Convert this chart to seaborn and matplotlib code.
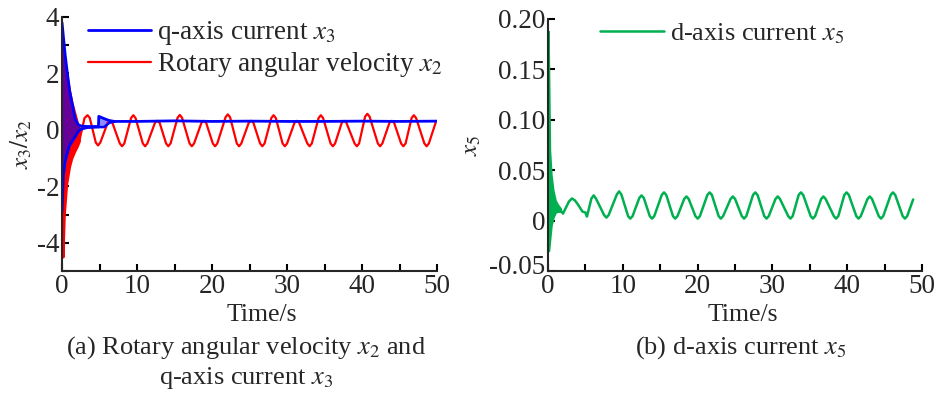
import matplotlib
matplotlib.use("Agg")
import matplotlib.pyplot as plt
import matplotlib.transforms as mtransforms
import seaborn as sns

# ── Data ──────────────────────────────────────────────────────────────────────
# (a) rotary angular velocity x2: dense transient envelope, then oscillation
x2_env_t  = [0.12, 0.3, 0.62, 1.0, 1.3, 1.7, 2.0, 2.3]
x2_env_hi = [3.0, 2.6, 2.0, 1.4, 1.0, 0.6, 0.3, 0.0]
x2_env_lo = [-4.5, -3.0, -1.9, -1.3, -1.0, -0.75, -0.6, -0.4]

x2_t = [2.3,
        3.0, 3.4, 3.7, 4.5, 4.8, 5.1, 6.1, 6.4, 6.7, 7.7, 8.0, 8.3,
        9.2, 9.5, 9.8, 10.77, 11.07, 11.37, 12.4, 12.7, 13.0, 13.87, 14.17, 14.47,
        15.4, 15.7, 16.0, 17.0, 17.3, 17.6, 18.6, 18.9, 19.2, 20.1, 20.4, 20.7,
        21.8, 22.1, 22.4, 23.3, 23.6, 23.9, 24.9, 25.2, 25.5, 26.4, 26.7, 27.0,
        27.9, 28.2, 28.5, 29.4, 29.7, 30.0, 31.0, 31.3, 31.6, 32.7, 33.0, 33.3,
        34.2, 34.5, 34.8, 35.8, 36.1, 36.4, 37.3, 37.6, 37.9, 39.0, 39.3, 39.6,
        40.4, 40.7, 41.0, 42.1, 42.4, 42.7, 43.66, 43.96, 44.26, 45.2, 45.5, 45.8,
        46.6, 46.9, 47.2, 48.3, 48.6, 48.9,
        49.8]
x2_v = [-0.4,
        0.42, 0.52, 0.42, -0.45, -0.55, -0.45, 0.26, 0.33, 0.26, -0.48, -0.58, -0.48,
        0.42, 0.52, 0.42, -0.48, -0.58, -0.48, 0.26, 0.32, 0.26, -0.48, -0.58, -0.48,
        0.43, 0.53, 0.43, -0.48, -0.58, -0.48, 0.26, 0.32, 0.26, -0.48, -0.58, -0.48,
        0.45, 0.55, 0.45, -0.48, -0.58, -0.48, 0.26, 0.32, 0.26, -0.48, -0.58, -0.48,
        0.42, 0.52, 0.42, -0.48, -0.58, -0.48, 0.26, 0.32, 0.26, -0.48, -0.58, -0.48,
        0.42, 0.52, 0.42, -0.48, -0.58, -0.48, 0.26, 0.32, 0.26, -0.48, -0.58, -0.48,
        0.47, 0.57, 0.47, -0.48, -0.58, -0.48, 0.26, 0.32, 0.26, -0.48, -0.58, -0.48,
        0.42, 0.52, 0.42, -0.48, -0.58, -0.48,
        0.25]

# (a) q-axis current x3: transient envelope, small bump near t=5, steady part
x3_env_t  = [0.0, 0.18, 0.4, 0.62, 1.0, 1.3, 1.73, 2.1, 2.5, 3.3, 4.85]
x3_env_hi = [3.8, 3.3, 2.7, 2.2, 1.4, 1.0, 0.4, 0.2, 0.14, 0.12, 0.12]
x3_env_lo = [-2.9, -1.6, -1.15, -0.9, -0.55, -0.43, -0.25, -0.08, 0.02, 0.08, 0.1]

x3_bump_t  = [4.85, 4.9, 5.6, 6.3, 7.0]
x3_bump_hi = [0.12, 0.48, 0.4, 0.33, 0.3]
x3_bump_lo = [0.1, 0.1, 0.1, 0.25, 0.3]

x3_t = [7.0, 10, 15, 20, 25, 30, 35, 40, 45, 50]
x3_v = [0.3, 0.3, 0.32, 0.3, 0.31, 0.3, 0.3, 0.31, 0.3, 0.31]

# (b) d-axis current x5
x5_env_t  = [0.05, 0.12, 0.25, 0.45, 0.7, 1.0, 1.3, 1.7]
x5_env_hi = [0.188, 0.15, 0.07, 0.045, 0.03, 0.02, 0.016, 0.012]
x5_env_lo = [-0.03, -0.03, -0.02, -0.005, 0.003, 0.008, 0.009, 0.009]

x5_t = [1.7, 2.0, 2.8, 3.2, 3.6, 4.0, 4.6, 5.0, 5.2,
        5.8, 6.1, 6.4, 7.5, 7.8, 8.1, 9.2, 9.5, 9.8, 10.7, 11.0, 11.3,
        12.2, 12.5, 12.8, 13.6, 13.9, 14.2, 15.2, 15.5, 15.8, 16.7, 17.0, 17.3,
        18.2, 18.5, 18.8, 19.7, 20.0, 20.3, 21.3, 21.6, 21.9, 22.8, 23.1, 23.4,
        24.4, 24.7, 25.0, 25.9, 26.2, 26.5, 27.4, 27.7, 28.0, 28.9, 29.2, 29.5,
        30.4, 30.7, 31.0, 32.1, 32.4, 32.7, 33.5, 33.8, 34.1, 35.1, 35.4, 35.7,
        36.5, 36.8, 37.1, 38.2, 38.5, 38.8, 39.6, 39.9, 40.2, 41.2, 41.5, 41.8,
        42.7, 43.0, 43.3, 44.2, 44.5, 44.8, 45.8, 46.1, 46.4, 47.4, 47.7, 48.0,
        48.8]
x5_v = [0.01, 0.007, 0.019, 0.022, 0.02, 0.016, 0.009, 0.008, 0.004,
        0.022, 0.025, 0.022, 0.0055, 0.003, 0.0055, 0.026, 0.029, 0.026, 0.0045, 0.002, 0.0045,
        0.0225, 0.025, 0.0225, 0.0045, 0.002, 0.0045, 0.0255, 0.028, 0.0255, 0.0045, 0.002, 0.0045,
        0.0215, 0.024, 0.0215, 0.0045, 0.002, 0.0045, 0.0255, 0.028, 0.0255, 0.0045, 0.002, 0.0045,
        0.0215, 0.024, 0.0215, 0.0045, 0.002, 0.0045, 0.0255, 0.028, 0.0255, 0.0045, 0.002, 0.0045,
        0.0215, 0.024, 0.0215, 0.0045, 0.002, 0.0045, 0.0255, 0.028, 0.0255, 0.0045, 0.002, 0.0045,
        0.0215, 0.024, 0.0215, 0.0045, 0.002, 0.0045, 0.0255, 0.028, 0.0255, 0.0045, 0.002, 0.0045,
        0.0215, 0.024, 0.0215, 0.0045, 0.002, 0.0045, 0.0255, 0.028, 0.0255, 0.0045, 0.002, 0.0045,
        0.021]

RED, BLUE, GREEN = "#ff0000", "#0000ff", "#00b050"

# ── Style ──────────────────────────────────────────────────────────────────────
sns.set_theme(style="ticks")
plt.rcParams.update({
    "font.family": ["Liberation Serif", "DejaVu Serif"],
    "mathtext.fontset": "stix",
    "font.size": 18,
    "axes.linewidth": 1.5,
    "axes.unicode_minus": False,
    "xtick.direction": "in",
    "ytick.direction": "in",
    "xtick.labelsize": 19.5,
    "ytick.labelsize": 19.5,
})

fig = plt.figure(figsize=(9.4, 3.94), dpi=100)
ax1 = fig.add_axes([0.066, 0.312, 0.399, 0.645])
ax2 = fig.add_axes([0.583, 0.312, 0.398, 0.640])


def style_axes(ax):
    sns.despine(ax=ax)
    ax.tick_params(which="both", length=5, width=1.5, color="black", pad=2)
    ax.set_xlim(0, 50)
    ax.set_xticks(range(0, 51, 10))
    ax.set_xticks(range(5, 50, 10), minor=True)


# ── Panel (a) ─────────────────────────────────────────────────────────────────
ax1.fill_between(x2_env_t, x2_env_lo, x2_env_hi, color=RED, lw=1.5)
sns.lineplot(x=x2_t, y=x2_v, ax=ax1, color=RED, lw=1.6, sort=False,
             estimator=None, label="Rotary angular velocity $x_2$")
ax1.fill_between(x3_env_t, x3_env_lo, x3_env_hi, color=BLUE, alpha=0.6, lw=0)
ax1.fill_between(x3_bump_t, x3_bump_lo, x3_bump_hi, color=BLUE, alpha=0.45, lw=0)
ax1.plot(x3_env_t, x3_env_lo, color=BLUE, lw=2)
ax1.plot(x3_bump_t, x3_bump_lo, color=BLUE, lw=1.8)
ax1.plot(x3_env_t + x3_bump_t[1:], x3_env_hi + x3_bump_hi[1:], color=BLUE, lw=2)
sns.lineplot(x=x3_t, y=x3_v, ax=ax1, color=BLUE, lw=2, sort=False,
             estimator=None, label="q-axis current $x_3$")

style_axes(ax1)
ax1.set_ylim(-5, 4)
ax1.set_yticks([-4, -2, 0, 2, 4])
ax1.set_yticks([-5, -3, -1, 1, 3], minor=True)
ax1.set_ylabel("$x_3/x_2$", fontsize=18, labelpad=2)
h, l = ax1.get_legend_handles_labels()
ax1.legend(h[::-1], l[::-1], loc="upper left", bbox_to_anchor=(0.07, 0.99),
           frameon=False, fontsize=19.5, handlelength=2.3, handletextpad=0.25,
           labelspacing=0.1, borderaxespad=0, borderpad=0)

# ── Panel (b) ─────────────────────────────────────────────────────────────────
ax2.fill_between(x5_env_t, x5_env_lo, x5_env_hi, color=GREEN, lw=1.2)
sns.lineplot(x=x5_t, y=x5_v, ax=ax2, color=GREEN, lw=1.8, sort=False,
             estimator=None, label="d-axis current $x_5$")
style_axes(ax2)
ax2.set_ylim(-0.05, 0.2)
ax2.set_yticks([-0.05, 0, 0.05, 0.10, 0.15, 0.20])
ax2.set_yticklabels(["-0.05", "0", "0.05", "0.10", "0.15", "0.20"])
# lift the bottom tick label a little, as in the reference, so it clears "0"
low = ax2.get_yticklabels()[0]
low.set_transform(low.get_transform() +
                  mtransforms.ScaledTranslation(0, 7 / 100, fig.dpi_scale_trans))
ax2.set_ylabel("$x_5$", fontsize=18, labelpad=4)
ax2.legend(loc="upper left", bbox_to_anchor=(0.14, 0.99), frameon=False,
           fontsize=19, handlelength=2.4, handletextpad=0.25,
           borderaxespad=0, borderpad=0)

# ── Axis titles and captions ──────────────────────────────────────────────────
fig.text(0.278, 0.20, "Time/s", ha="center", va="center", fontsize=18.5)
fig.text(0.790, 0.20, "Time/s", ha="center", va="center", fontsize=18.5)
fig.text(0.262, 0.117, "(a) Rotary angular velocity $x_2$ and",
         ha="center", va="center", fontsize=19)
fig.text(0.262, 0.041, "q-axis current $x_3$", ha="center", va="center",
         fontsize=19)
fig.text(0.788, 0.117, "(b) d-axis current $x_5$", ha="center", va="center",
         fontsize=19)

fig.savefig("out.png", dpi=100)
